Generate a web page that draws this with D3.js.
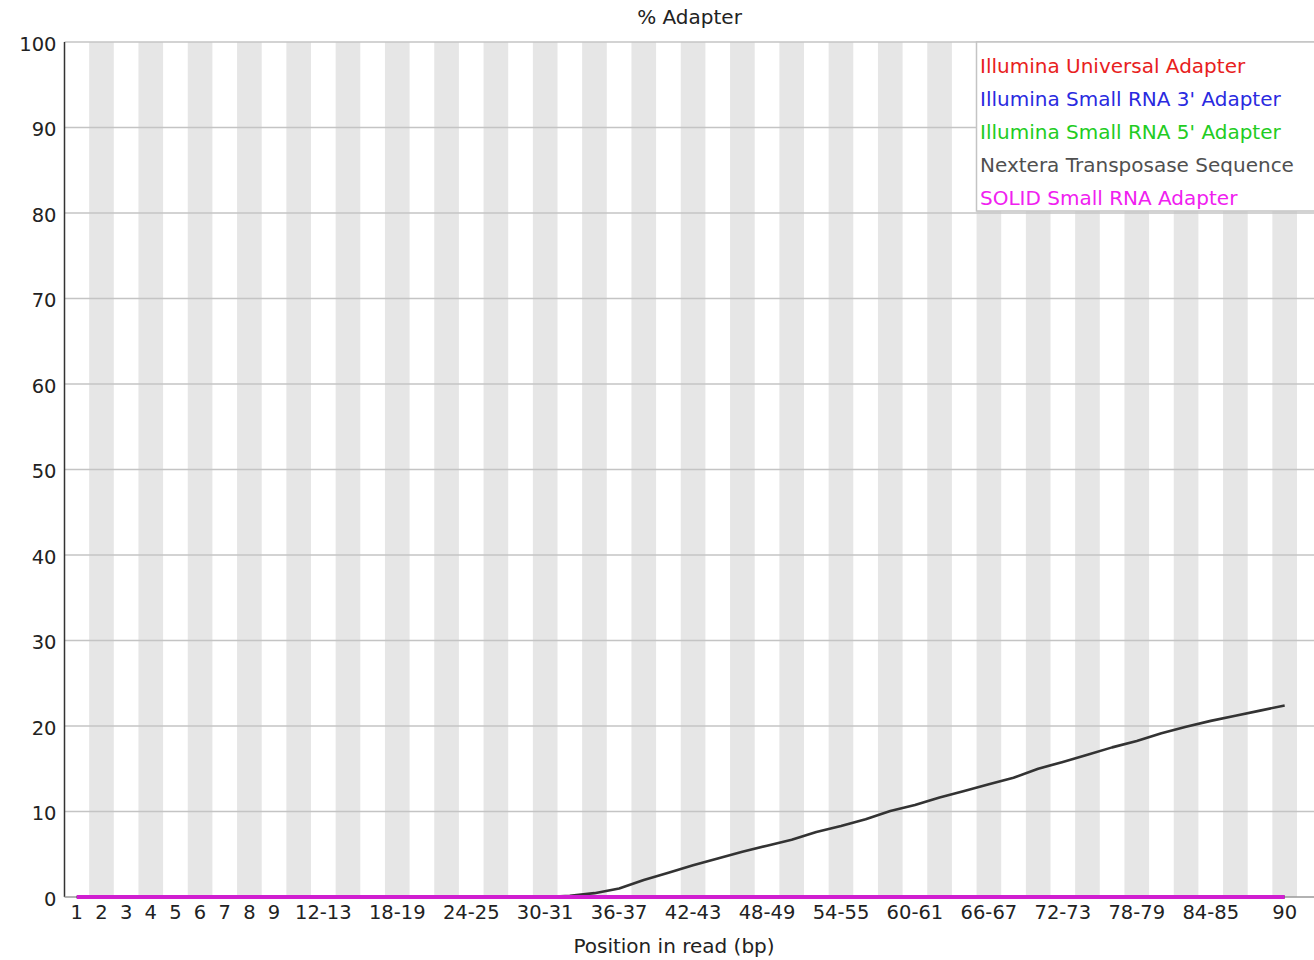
<!DOCTYPE html>
<html>
<head>
<meta charset="utf-8">
<script src="https://cdn.jsdelivr.net/npm/d3@7"></script>
<style>
  html, body { margin: 0; padding: 0; background: #fff; }
  svg { display: block; font-family: "DejaVu Sans", sans-serif; }
</style>
</head>
<body>
<svg id="chart" width="1314" height="960"></svg>
<script>
// ---- Data ----
const categories = ["1","2","3","4","5","6","7","8","9",
  "10-11","12-13","14-15","16-17","18-19","20-21","22-23","24-25","26-27","28-29",
  "30-31","32-33","34-35","36-37","38-39","40-41","42-43","44-45","46-47","48-49",
  "50-51","52-53","54-55","56-57","58-59","60-61","62-63","64-65","66-67","68-69",
  "70-71","72-73","74-75","76-77","78-79","80-81","82-83","84-85","86-87","88-89","90"];

const shownXTicks = ["1","2","3","4","5","6","7","8","9","12-13","18-19","24-25","30-31",
  "36-37","42-43","48-49","54-55","60-61","66-67","72-73","78-79","84-85","90"];

const yTicks = [0,10,20,30,40,50,60,70,80,90,100];

const seriesNames = ["Illumina Universal Adapter","Illumina Small RNA 3' Adapter",
  "Illumina Small RNA 5' Adapter","Nextera Transposase Sequence","SOLID Small RNA Adapter"];

const illuminaUniversal = [0,0,0,0,0,0,0,0,0,0, 0,0,0,0,0,0,0,0,0,0, 0,0,0,0,0,0,0,0,0,0, 0,0,0,0,0,0,0,0,0,0, 0,0,0,0,0,0,0,0,0,0];
const smallRNA3 = [0,0,0,0,0,0,0,0,0,0, 0,0,0,0,0,0,0,0,0,0, 0,0,0,0,0,0,0,0,0,0, 0,0,0,0,0,0,0,0,0,0, 0,0,0,0,0,0,0,0,0,0];
const smallRNA5 = [0,0,0,0,0,0,0,0,0,0, 0,0,0,0,0,0,0,0,0,0, 0,0,0,0,0,0,0,0,0,0, 0,0,0,0,0,0,0,0,0,0, 0,0,0,0,0,0,0,0,0,0];
const nextera = [0,0,0,0,0,0,0,0,0,0, 0,0,0,0,0,0,0,0,0,0,
  0.15,0.45,1.0,2.0,2.85,3.7,4.5,5.3,6.0,6.7,
  7.6,8.3,9.1,10.05,10.75,11.65,12.4,13.2,13.95,15.0,
  15.8,16.65,17.5,18.25,19.15,19.9,20.6,21.2,21.8,22.4];
const solid = [0,0,0,0,0,0,0,0,0,0, 0,0,0,0,0,0,0,0,0,0, 0,0,0,0,0,0,0,0,0,0, 0,0,0,0,0,0,0,0,0,0, 0,0,0,0,0,0,0,0,0,0];

const lineColors = ["#e02020","#2020e0","#20c020","#333333","#d01ed0"];
const legendColors = ["#e82020","#2a2ae0","#22cc22","#505050","#f020f0"];

// ---- Layout ----
const svg = d3.select("#chart");
const plotLeft = 64.5, plotRight = 1314, plotTop = 42, plotBottom = 897, catRight = 1297;

const x = d3.scaleBand().domain(categories).range([plotLeft, catRight]).padding(0);
const y = d3.scaleLinear().domain([0, 100]).range([plotBottom, plotTop]);

// stripes
svg.append("g").selectAll("rect")
  .data(categories.filter((c, i) => i % 2 === 1))
  .join("rect")
  .attr("x", d => x(d)).attr("y", plotTop)
  .attr("width", x.bandwidth()).attr("height", plotBottom - plotTop)
  .attr("fill", "#e6e6e6");

// horizontal grid lines
svg.append("g").selectAll("line")
  .data(yTicks.filter(t => t > 0))
  .join("line")
  .attr("x1", plotLeft).attr("x2", plotRight)
  .attr("y1", d => y(d)).attr("y2", d => y(d))
  .attr("stroke", "#c4c4c4").attr("stroke-width", 1.5);

// axes lines
svg.append("line").attr("x1", plotLeft).attr("x2", plotLeft).attr("y1", plotTop).attr("y2", plotBottom)
  .attr("stroke", "#333").attr("stroke-width", 1.5);
svg.append("line").attr("x1", plotLeft).attr("x2", plotRight).attr("y1", plotBottom).attr("y2", plotBottom)
  .attr("stroke", "#999").attr("stroke-width", 1.5);

// y tick labels
const yAxis = d3.axisLeft(y).tickValues(yTicks).tickSize(0).tickPadding(8);
const gy = svg.append("g").attr("transform", `translate(${plotLeft},0)`).call(yAxis);
gy.select(".domain").remove();
gy.selectAll("text").attr("font-size", "19.5px").attr("fill", "#222")
  .attr("font-family", "DejaVu Sans, sans-serif").attr("dy", "0.42em");

// x tick labels
const xAxis = d3.axisBottom(x).tickValues(shownXTicks).tickSize(0).tickPadding(8);
const gx = svg.append("g").attr("transform", `translate(0,${plotBottom})`).call(xAxis);
gx.select(".domain").remove();
gx.selectAll("text").attr("font-size", "19.5px").attr("fill", "#222")
  .attr("font-family", "DejaVu Sans, sans-serif");

// lines
const allSeries = [illuminaUniversal, smallRNA3, smallRNA5, nextera, solid];
const line = d3.line()
  .x((d, i) => x(categories[i]) + x.bandwidth() / 2)
  .y(d => y(d));
allSeries.forEach((s, k) => {
  svg.append("path").datum(s)
    .attr("d", line)
    .attr("fill", "none")
    .attr("stroke", lineColors[k])
    .attr("stroke-width", k === 4 ? 3.8 : 2.6)
    .attr("stroke-linejoin", "round");
});

// title and axis title
svg.append("text").attr("x", 689.5).attr("y", 24).attr("text-anchor", "middle")
  .attr("font-size", "20px").attr("fill", "#222").text("% Adapter");
svg.append("text").attr("x", 674).attr("y", 953).attr("text-anchor", "middle")
  .attr("font-size", "20px").attr("fill", "#222").text("Position in read (bp)");

// legend
const lg = svg.append("g");
lg.append("rect").attr("x", 976.5).attr("y", 42).attr("width", 345).attr("height", 169)
  .attr("fill", "#fff").attr("stroke", "#c4c4c4").attr("stroke-width", 1.5);
lg.selectAll("text").data(seriesNames).join("text")
  .attr("x", 980).attr("y", (d, i) => 73 + i * 33)
  .attr("font-size", "20px")
  .attr("fill", (d, i) => legendColors[i])
  .text(d => d);
</script>
</body>
</html>
